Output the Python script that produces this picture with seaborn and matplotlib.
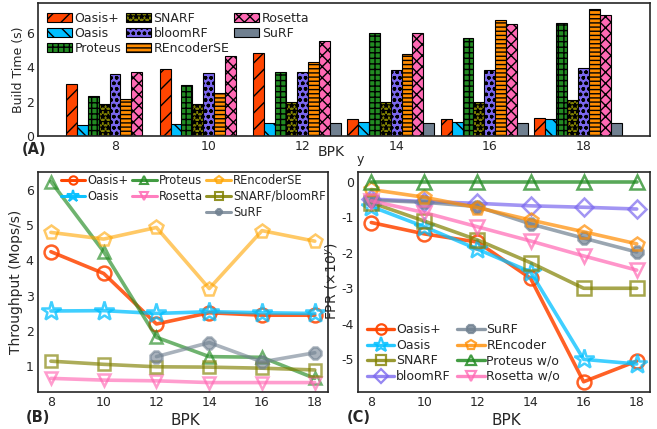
import numpy as np
import pandas as pd
import matplotlib
matplotlib.use("Agg")
import matplotlib.pyplot as plt
from matplotlib.patches import Patch
from matplotlib.lines import Line2D
from matplotlib.colors import to_hex
import seaborn as sns

# ---------------- data ----------------
bpk = [8, 10, 12, 14, 16, 18]

bar_methods = ["Oasis+", "Oasis", "Proteus", "SNARF", "bloomRF", "REncoderSE", "Rosetta", "SuRF"]
build_oasis_plus = [3.04, 3.90, 4.80, 1.01, 1.01, 1.05]
build_oasis = [0.66, 0.72, 0.78, 0.84, 0.84, 0.96]
build_proteus = [2.34, 2.96, 3.72, 6.00, 5.69, 6.57]
build_snarf = [1.87, 1.89, 1.95, 1.97, 2.00, 2.07]
build_bloomrf = [3.59, 3.65, 3.74, 3.82, 3.86, 3.94]
build_rencoderse = [2.18, 2.51, 4.29, 4.78, 6.76, 7.37]
build_rosetta = [3.70, 4.68, 5.52, 6.02, 6.49, 7.04]
build_surf = [0.0, 0.0, 0.74, 0.76, 0.76, 0.78]

tp_methods = ["Oasis+", "Oasis", "Proteus", "Rosetta", "REncoderSE", "SNARF/bloomRF", "SuRF"]
tp_oasis_plus = [4.25, 3.63, 2.19, 2.51, 2.44, 2.44]
tp_oasis = [2.56, 2.57, 2.49, 2.54, 2.51, 2.49]
tp_proteus = [6.25, 4.25, 1.81, 1.26, 1.24, 0.64]
tp_rosetta = [0.64, 0.59, 0.57, 0.52, 0.52, 0.52]
tp_rencoderse = [4.80, 4.61, 4.94, 3.20, 4.85, 4.55]
tp_snarf_bloomrf = [1.13, 1.04, 0.97, 0.96, 0.93, 0.88]
tp_surf = [np.nan, np.nan, 1.26, 1.66, 1.11, 1.37]

fpr_methods = ["Oasis+", "Oasis", "SNARF", "bloomRF", "SuRF", "REncoder", "Proteus w/o", "Rosetta w/o"]
fpr_oasis_plus = [-1.15, -1.47, -1.70, -2.72, -5.63, -5.05]
fpr_oasis = [-0.70, -1.27, -1.90, -2.54, -5.00, -5.13]
fpr_snarf = [-0.59, -1.11, -1.64, -2.28, -3.00, -3.00]
fpr_bloomrf = [-0.49, -0.56, -0.61, -0.68, -0.72, -0.77]
fpr_surf = [-0.52, -0.58, -0.70, -1.19, -1.59, -1.98]
fpr_rencoder = [-0.22, -0.44, -0.73, -1.08, -1.41, -1.75]
fpr_proteus = [0.0, 0.0, 0.0, 0.0, 0.0, 0.0]
fpr_rosetta = [-0.54, -0.87, -1.27, -1.67, -2.09, -2.49]

# ---------------- style ----------------
sns.set_style("white")
plt.rcParams["font.family"] = ["DejaVu Sans"]
plt.rcParams["font.size"] = 9
plt.rcParams["axes.unicode_minus"] = False
plt.rcParams["hatch.linewidth"] = 1.0
plt.rcParams["axes.edgecolor"] = "0.15"
plt.rcParams["axes.linewidth"] = 1.2

bar_colors = {"Oasis+": "#FF4500", "Oasis": "#00BFFF", "Proteus": "#228B22", "SNARF": "#808000",
              "bloomRF": "#7B68EE", "REncoderSE": "#FF8C00", "Rosetta": "#FF69B4", "SuRF": "#708090"}
bar_hatches = {"Oasis+": "//", "Oasis": "\\\\", "Proteus": "+++", "SNARF": "***",
               "bloomRF": "ooo", "REncoderSE": "----", "Rosetta": "xxx", "SuRF": ""}

fig = plt.figure(figsize=(6.57, 4.29), dpi=100)
W, H = 657, 429

def add_ax(l, t, r, b):
    return fig.add_axes([l / W, 1 - b / H, (r - l) / W, (b - t) / H])

axA = add_ax(38, 3.3, 650, 136)
axB = add_ax(37.7, 171.7, 328, 391.7)
axC = add_ax(358, 171.7, 650, 391.7)

# ---------------- (A) build time bars ----------------
build_vals = [build_oasis_plus, build_oasis, build_proteus, build_snarf,
              build_bloomrf, build_rencoderse, build_rosetta, build_surf]
dfA = pd.DataFrame({
    "BPK": np.repeat([bpk], len(bar_methods), axis=0).ravel(),
    "Method": np.repeat(bar_methods, len(bpk)),
    "Time": np.concatenate(build_vals),
})
group_w = 0.93
sns.barplot(data=dfA, x="BPK", y="Time", hue="Method", hue_order=bar_methods,
            palette=bar_colors, saturation=1, width=group_w, gap=0, errorbar=None,
            edgecolor="black", linewidth=0.8, legend=False, ax=axA)
color_to_method = {to_hex(c).lower(): m for m, c in bar_colors.items()}
for p in axA.patches:
    m = color_to_method.get(to_hex(p.get_facecolor()).lower())
    if m is not None:
        p.set_hatch(bar_hatches[m])
        p.set_edgecolor("black")
        p.set_linewidth(0.8)
bw = group_w / len(bar_methods)
axA.set_xticks([i + bw / 2 for i in range(len(bpk))])
axA.set_xticklabels([str(b) for b in bpk])
axA.set_xlim(-0.764, 5.768)
axA.set_ylim(0, 7.72)
axA.set_yticks([0, 2, 4, 6])
axA.set_ylabel("Build Time (s)", fontsize=9)
axA.yaxis.set_label_coords(-0.021, 0.5)
axA.set_xlabel("BPK", fontsize=10)
axA.xaxis.set_label_coords(0.479, -0.07)
handlesA = [Patch(facecolor=bar_colors[m], edgecolor="black", hatch=bar_hatches[m],
                  linewidth=0.8, label=m) for m in bar_methods]
axA.legend(handles=handlesA, ncol=3, loc="upper left", frameon=False, fontsize=9,
           handlelength=2.0, handleheight=0.8, handletextpad=0.2, columnspacing=0.4,
           labelspacing=0.15, borderaxespad=0.3, bbox_to_anchor=(0.0, 1.0))

# ---------------- (B) throughput lines ----------------
tp_vals = [tp_oasis_plus, tp_oasis, tp_proteus, tp_rosetta, tp_rencoderse, tp_snarf_bloomrf, tp_surf]
tp_colors = ["#FF4500", "#00BFFF", "#228B22", "#FF69B4", "#FFA500", "#808000", "#708090"]
tp_markers = ["o", "*", "^", "v", "p", "s", "8"]
tp_alpha = [0.85, 0.75, 0.65, 0.65, 0.6, 0.65, 0.6]
tp_ms = [10, 15, 9, 9, 10, 9, 9]
handlesB = []
for name, vals, c, mk, a, ms in zip(tp_methods, tp_vals, tp_colors, tp_markers, tp_alpha, tp_ms):
    filled = (mk == "8")
    sns.lineplot(x=bpk, y=vals, ax=axB, color=c, marker=mk, markersize=ms,
                 markerfacecolor=(c if filled else "none"), markeredgecolor=c,
                 markeredgewidth=1.8, linewidth=2.6, alpha=a)
    handlesB.append(Line2D([], [], color=c, marker=mk, markersize=ms * 0.6,
                           markerfacecolor=(c if filled else "none"), markeredgecolor=c,
                           markeredgewidth=1.5, linewidth=2.2, alpha=min(1, a + 0.2), label=name))
blank = Line2D([], [], linestyle="none", marker=None, label="")
legB_handles = [handlesB[0], handlesB[1], blank, handlesB[2], handlesB[3], blank,
                handlesB[4], handlesB[5], handlesB[6]]
axB.legend(handles=legB_handles, labels=[h.get_label() for h in legB_handles], ncol=3,
           loc="upper right", frameon=False, fontsize=8.3, handlelength=2.1,
           handletextpad=0.2, columnspacing=0.3, labelspacing=0.25,
           borderaxespad=0.0, borderpad=0.2, bbox_to_anchor=(1.0, 1.0))
axB.set_xlim(7.5, 18.5)
axB.set_ylim(0.26, 6.53)
axB.set_xticks(bpk)
axB.set_yticks([1, 2, 3, 4, 5, 6])
axB.set_xlabel("BPK", fontsize=11)
axB.xaxis.set_label_coords(0.507, -0.095)
axB.set_ylabel("Throughput (Mops/s)", fontsize=10)
axB.yaxis.set_label_coords(-0.05, 0.5)

# ---------------- (C) FPR lines ----------------
fpr_vals = [fpr_oasis_plus, fpr_oasis, fpr_snarf, fpr_bloomrf, fpr_surf, fpr_rencoder, fpr_proteus, fpr_rosetta]
fpr_colors = ["#FF4500", "#00BFFF", "#808000", "#7B68EE", "#708090", "#FF8C00", "#228B22", "#FF69B4"]
fpr_markers = ["o", "*", "s", "D", "8", "p", "^", "v"]
fpr_alpha = [0.85, 0.75, 0.7, 0.7, 0.7, 0.7, 0.75, 0.7]
fpr_ms = [10, 15, 10, 9, 9, 10, 10, 10]
handlesC = []
for name, vals, c, mk, a, ms in zip(fpr_methods, fpr_vals, fpr_colors, fpr_markers, fpr_alpha, fpr_ms):
    filled = (mk == "8")
    sns.lineplot(x=bpk, y=vals, ax=axC, color=c, marker=mk, markersize=ms,
                 markerfacecolor=(c if filled else "none"), markeredgecolor=c,
                 markeredgewidth=1.8, linewidth=2.6, alpha=a)
    handlesC.append(Line2D([], [], color=c, marker=mk, markersize=ms * 0.75,
                           markerfacecolor=(c if filled else "none"), markeredgecolor=c,
                           markeredgewidth=1.6, linewidth=2.4, alpha=min(1, a + 0.1), label=name))
axC.legend(handles=handlesC, ncol=2, loc="lower left", frameon=False, fontsize=9,
           handlelength=2.2, handletextpad=0.15, columnspacing=0.5, labelspacing=0.2,
           borderaxespad=0.3, borderpad=0.4)
axC.set_xlim(7.5, 18.5)
axC.set_ylim(-5.91, 0.28)
axC.set_xticks(bpk)
axC.set_yticks([0, -1, -2, -3, -4, -5])
axC.set_xlabel("BPK", fontsize=11)
axC.xaxis.set_label_coords(0.507, -0.095)
axC.set_ylabel(r"FPR ($\times$10$^{y}$)", fontsize=10)
axC.yaxis.set_label_coords(-0.062, 0.5)

for ax in (axA, axB, axC):
    ax.tick_params(labelsize=9, length=0, pad=3)
    for s in ax.spines.values():
        s.set_visible(True)
        s.set_color("0.15")

# ---------------- annotations ----------------
fig.text(22 / W, 1 - 150 / H, "(A)", fontsize=10.5, fontweight="bold", va="center", ha="left")
fig.text(26 / W, 1 - 418 / H, "(B)", fontsize=10.5, fontweight="bold", va="center", ha="left")
fig.text(347 / W, 1 - 417 / H, "(C)", fontsize=10.5, fontweight="bold", va="center", ha="left")
fig.text(360 / W, 1 - 160 / H, "y", fontsize=9, va="center", ha="center")

fig.savefig("out.png", dpi=100)
